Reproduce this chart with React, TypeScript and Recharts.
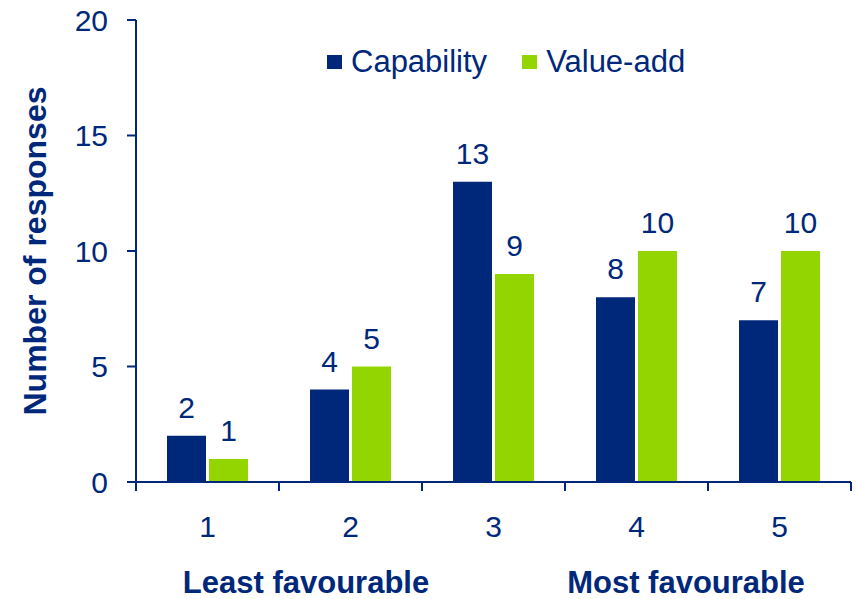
import { BarChart, Bar, XAxis, YAxis, LabelList } from "recharts";

const NAVY = "#00287A";
const GREEN = "#93D500";
const FONT = "'Liberation Sans', Arial, sans-serif";

const categories = ["1", "2", "3", "4", "5"];
const capability = [2, 4, 13, 8, 7];
const valueAdd = [1, 5, 9, 10, 10];
const yTicks = [0, 5, 10, 15, 20];

const W = 856;
const H = 599;
const MARGIN = { top: 20, right: 5, left: 0, bottom: 57 };
const Y_AXIS_W = 136;
const X_AXIS_H = 60;
const PLOT_BOTTOM = H - MARGIN.bottom - X_AXIS_H;
const STEP = (W - MARGIN.left - MARGIN.right - Y_AXIS_W) / categories.length;

const data = categories.map((c, i) => ({
  name: c,
  capability: capability[i],
  valueAdd: valueAdd[i],
}));

// category label in the middle, tick marks on the category boundaries
function CategoryTick(props: any) {
  const { x, index, payload } = props;
  const last = index === categories.length - 1;
  return (
    <g>
      <line x1={x - STEP / 2} x2={x - STEP / 2} y1={PLOT_BOTTOM} y2={PLOT_BOTTOM + 9} stroke={NAVY} strokeWidth={2} />
      {last && (
        <line x1={x + STEP / 2} x2={x + STEP / 2} y1={PLOT_BOTTOM} y2={PLOT_BOTTOM + 9} stroke={NAVY} strokeWidth={2} />
      )}
      <text x={x} y={PLOT_BOTTOM + 34} dy="0.71em" textAnchor="middle" fill={NAVY} fontSize={30} fontFamily={FONT}>
        {payload.value}
      </text>
    </g>
  );
}

function LegendItem({ color, label }: { color: string; label: string }) {
  return (
    <div style={{ display: "flex", alignItems: "center" }}>
      <div style={{ width: 15, height: 14, background: color, marginRight: 9 }} />
      <span style={{ fontSize: 31, lineHeight: "31px", color: NAVY }}>{label}</span>
    </div>
  );
}

export default function App() {
  return (
    <div style={{ position: "absolute", left: 0, top: 0, width: W, height: H, background: "#fff", fontFamily: FONT, overflow: "hidden" }}>
      <BarChart width={W} height={H} data={data} margin={MARGIN} barSize={39} barGap={3}>
        <XAxis
          dataKey="name"
          height={X_AXIS_H}
          axisLine={{ stroke: NAVY, strokeWidth: 2 }}
          tickLine={false}
          tick={<CategoryTick />}
          interval={0}
        />
        <YAxis
          domain={[0, 20]}
          ticks={yTicks}
          width={Y_AXIS_W}
          axisLine={{ stroke: NAVY, strokeWidth: 2 }}
          tickLine={{ stroke: NAVY, strokeWidth: 2 }}
          tickSize={9}
          tickMargin={19}
          tick={{ fill: NAVY, fontSize: 30, fontFamily: FONT }}
          label={(p: any) => {
            const vb = p.viewBox;
            const cy = vb.y + vb.height / 2;
            return (
              <text
                x={46}
                y={cy}
                transform={`rotate(-90 46 ${cy})`}
                textAnchor="middle"
                fill={NAVY}
                fontSize={32}
                fontWeight="bold"
                fontFamily={FONT}
              >
                Number of responses
              </text>
            );
          }}
        />
        <Bar dataKey="capability" name="Capability" fill={NAVY} isAnimationActive={false}>
          <LabelList dataKey="capability" position="top" offset={18} fill={NAVY} fontSize={30} fontFamily={FONT} />
        </Bar>
        <Bar dataKey="valueAdd" name="Value-add" fill={GREEN} isAnimationActive={false}>
          <LabelList dataKey="valueAdd" position="top" offset={18} fill={NAVY} fontSize={30} fontFamily={FONT} />
        </Bar>
      </BarChart>

      <div style={{ position: "absolute", left: 327, top: 46, display: "flex", gap: 35 }}>
        <LegendItem color={NAVY} label="Capability" />
        <LegendItem color={GREEN} label="Value-add" />
      </div>

      <div
        style={{
          position: "absolute",
          top: 569,
          left: 0,
          width: W,
          height: 28,
          fontSize: 31,
          lineHeight: "28px",
          fontWeight: "bold",
          color: NAVY,
        }}
      >
        <span style={{ position: "absolute", left: 306, top: 0, transform: "translateX(-50%)", whiteSpace: "nowrap" }}>
          Least favourable
        </span>
        <span style={{ position: "absolute", left: 686, top: 0, transform: "translateX(-50%)", whiteSpace: "nowrap" }}>
          Most favourable
        </span>
      </div>
    </div>
  );
}
